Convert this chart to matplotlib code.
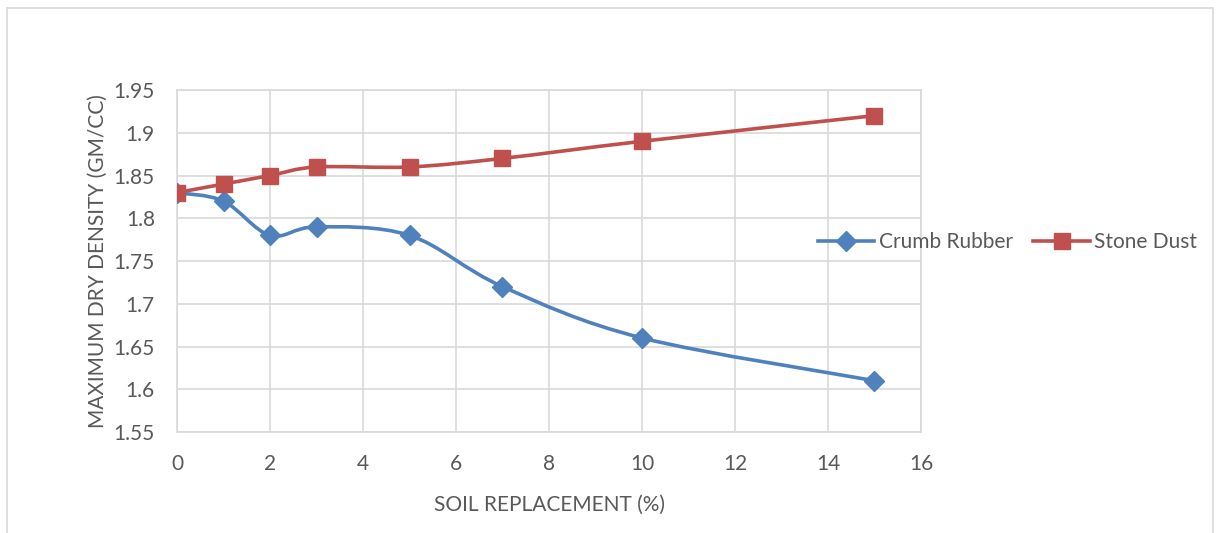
import numpy as np
import matplotlib.pyplot as plt
from matplotlib.path import Path
from matplotlib.patches import PathPatch, Rectangle
from matplotlib.lines import Line2D
from matplotlib.ticker import FuncFormatter

# Data
replacement = [0, 1, 2, 3, 5, 7, 10, 15]
crumb_rubber = [1.83, 1.82, 1.78, 1.79, 1.78, 1.72, 1.66, 1.61]
stone_dust = [1.83, 1.84, 1.85, 1.86, 1.86, 1.87, 1.89, 1.92]
x_ticks = [0, 2, 4, 6, 8, 10, 12, 14, 16]
y_ticks = [1.55, 1.6, 1.65, 1.7, 1.75, 1.8, 1.85, 1.9, 1.95]

BLUE = "#4F81BD"
RED = "#C0504D"
GRID = "#D9D9D9"
TEXT = "#595959"

plt.rcParams["font.family"] = ["Lato", "DejaVu Sans"]


# Excel-like smoothed line through the points (cubic bezier segments)
def smooth_path(xs, ys):
    pts = np.column_stack([xs, ys]).astype(float)
    n = len(pts)
    verts = [pts[0]]
    codes = [Path.MOVETO]
    for i in range(n - 1):
        p0 = pts[max(i - 1, 0)]
        p1 = pts[i]
        p2 = pts[i + 1]
        p3 = pts[min(i + 2, n - 1)]
        c1 = p1 + (p2 - p0) / 6.0
        c2 = p2 - (p3 - p1) / 6.0
        verts += [c1, c2, p2]
        codes += [Path.CURVE4] * 3
    return Path(verts, codes)


fig = plt.figure(figsize=(12.17, 5.33), dpi=100)
ax = fig.add_axes([177 / 1217, 1 - 432 / 533, (921 - 177) / 1217, (432 - 90) / 533])

# outer chart frame
fig.patches.append(Rectangle((7 / 1217, -0.05), (1213 - 7) / 1217, 1 - 8 / 533 + 0.05,
                             transform=fig.transFigure, fill=False,
                             edgecolor=GRID, linewidth=1.2))

for ys, color, marker, ms in [(crumb_rubber, BLUE, "D", 10), (stone_dust, RED, "s", 12)]:
    ax.add_patch(PathPatch(smooth_path(replacement, ys), facecolor="none",
                           edgecolor=color, linewidth=2.6, capstyle="round", zorder=3))
    ax.plot(replacement, ys, linestyle="none", marker=marker, markersize=ms,
            color=color, zorder=4)

ax.set_xlim(0, 16)
ax.set_ylim(1.55, 1.95)
ax.set_xticks(x_ticks)
ax.set_yticks(y_ticks)
ax.yaxis.set_major_formatter(FuncFormatter(lambda v, p: f"{v:g}"))
ax.grid(True, color=GRID, linewidth=1.2)
ax.set_axisbelow(True)
for s in ax.spines.values():
    s.set_color(GRID)
    s.set_linewidth(1.2)
ax.tick_params(axis="both", length=0, labelsize=15, labelcolor=TEXT)
ax.tick_params(axis="x", pad=16)
ax.tick_params(axis="y", pad=16)

ax.set_xlabel("SOIL REPLACEMENT (%)", fontsize=15, color=TEXT, labelpad=15)
ax.set_ylabel("MAXIMUM DRY DENSITY (GM/CC)", fontsize=15, color=TEXT, labelpad=4)

handles = [Line2D([], [], color=BLUE, lw=2.6, marker="D", markersize=10),
           Line2D([], [], color=RED, lw=2.6, marker="s", markersize=12)]
fig.legend(handles, ["Crumb Rubber", "Stone Dust"], loc="center left",
           bbox_to_anchor=(814 / 1217, 1 - 242 / 533), ncol=2, frameon=False,
           fontsize=15, labelcolor=TEXT, handlelength=2.7, handletextpad=0.2,
           columnspacing=1.0, borderpad=0.2, borderaxespad=0)

fig.savefig("out.png", dpi=100)
